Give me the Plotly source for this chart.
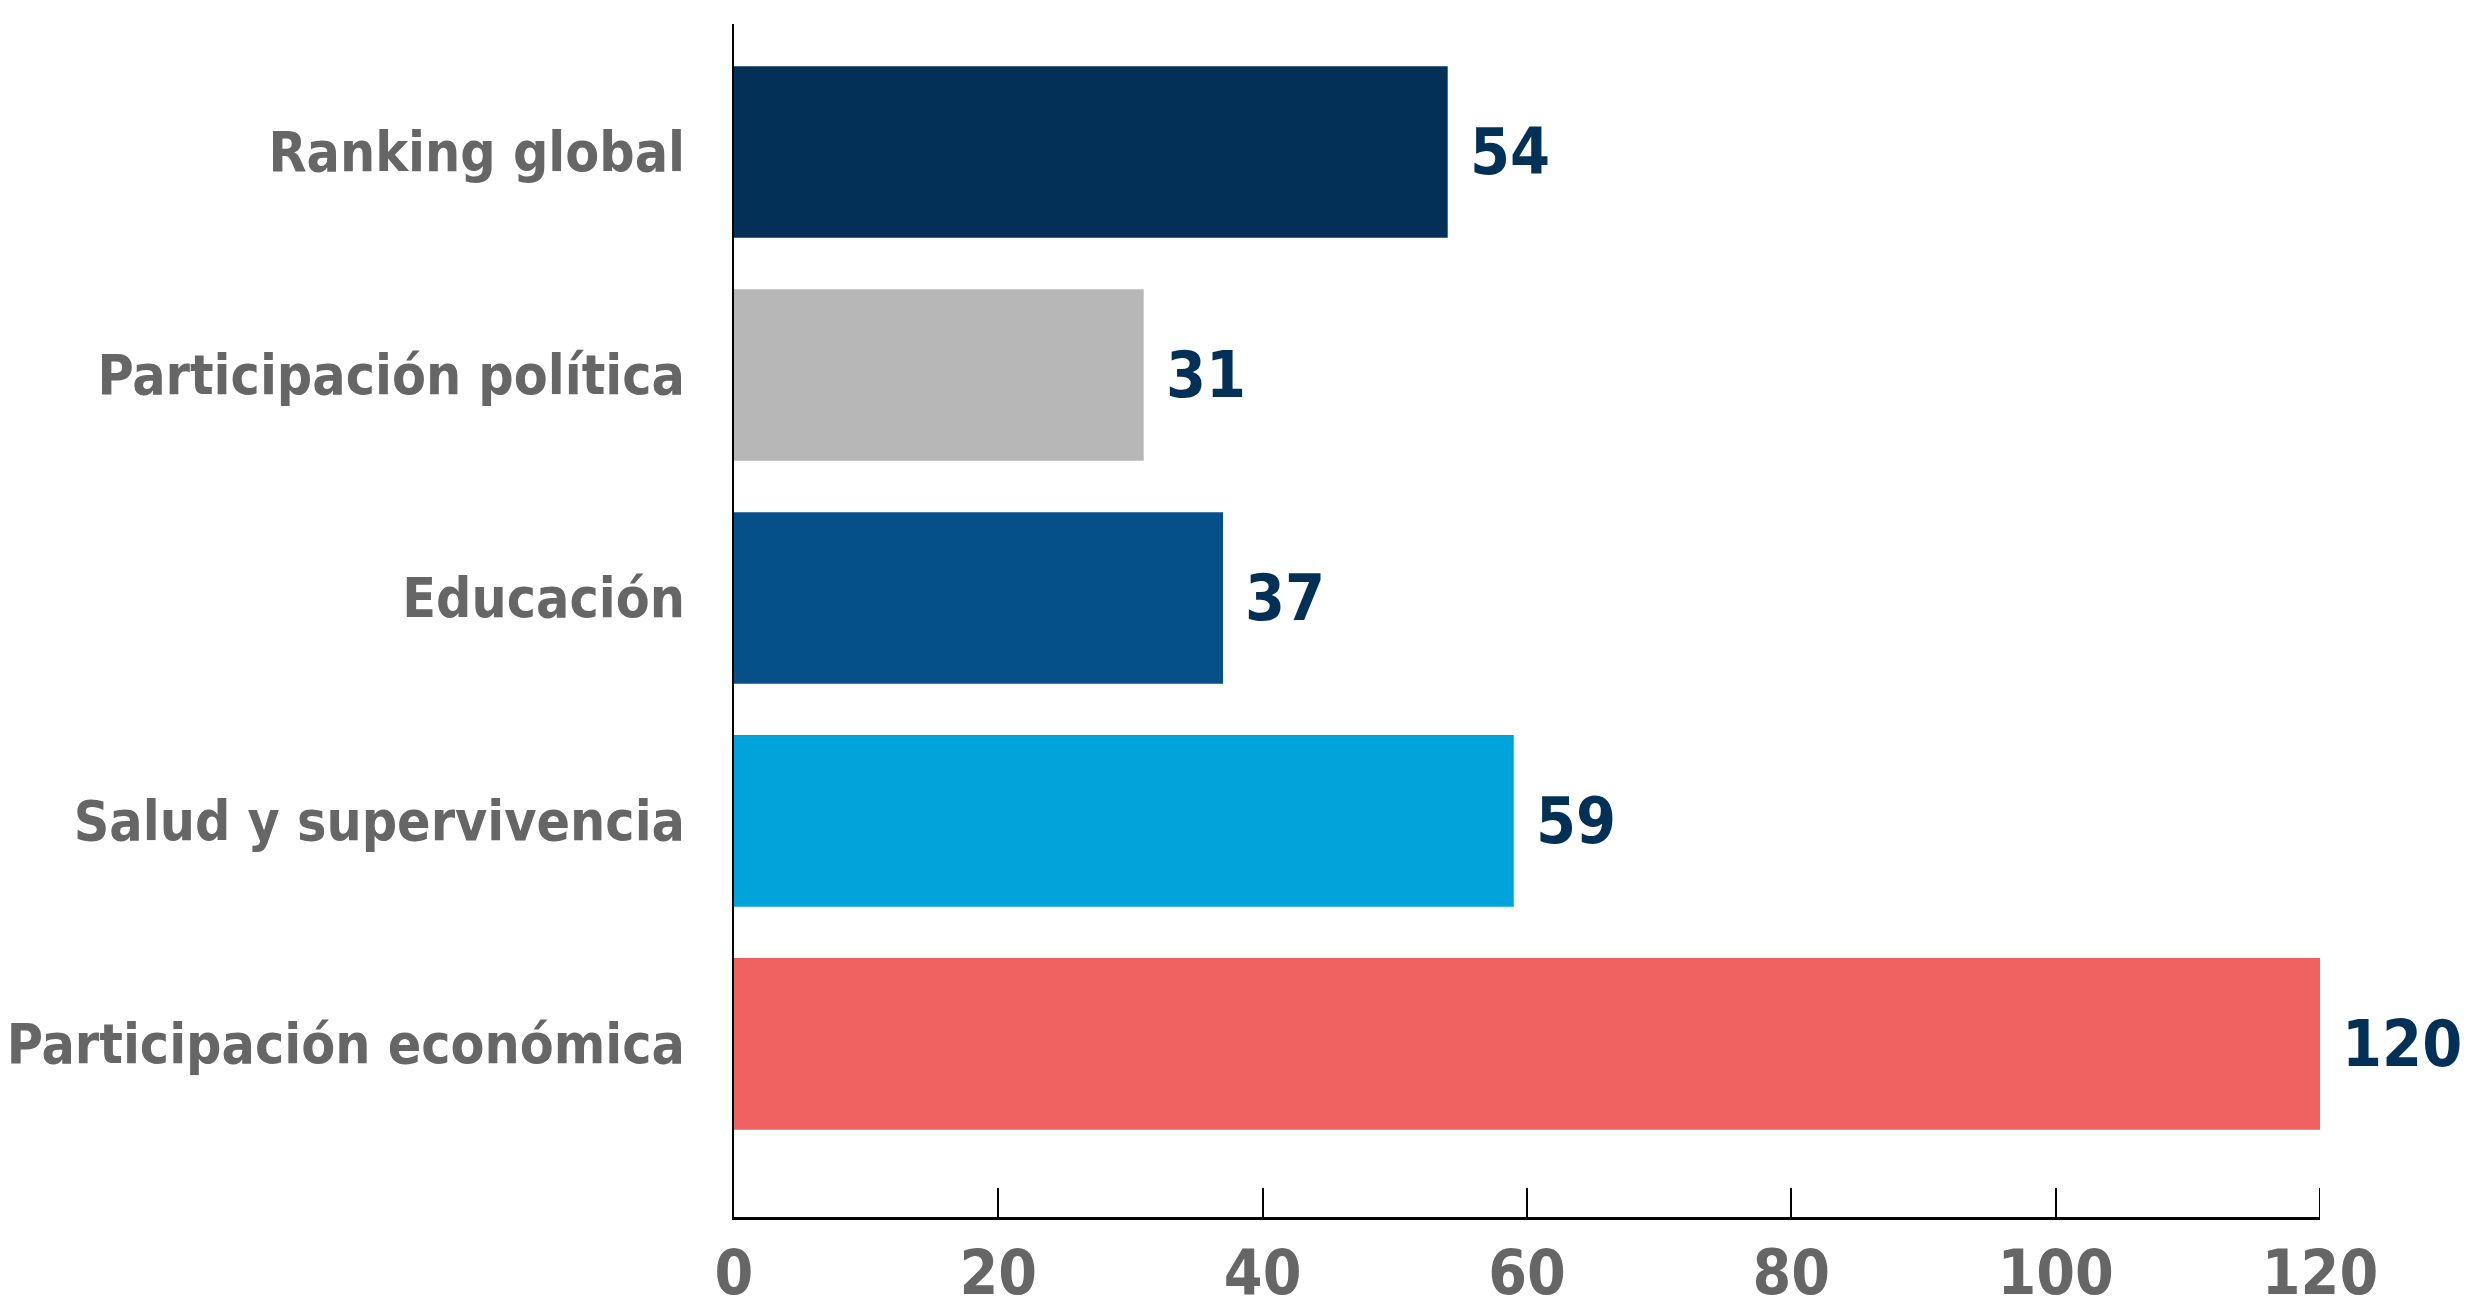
import plotly.graph_objects as go

# ── Data ─────────────────────────────────────────────────────────────────────
categories = [
    "Participación económica",
    "Salud y supervivencia",
    "Educación",
    "Participación política",
    "Ranking global",
]
ranks = [120, 59, 37, 31, 54]
bar_colors = ["#f06262", "#00a3da", "#06508a", "#b7b7b7", "#023056"]
x_ticks = [0, 20, 40, 60, 80, 100, 120]

FONT = "'Liberation Sans Narrow', 'DejaVu Sans Condensed', 'Arial Narrow', sans-serif"
GREY = "#666666"
NAVY = "#023056"
PLOT_H = 1312 - 16 - 103

fig = go.Figure(go.Bar(
    x=ranks,
    y=categories,
    orientation="h",
    width=0.77,
    marker=dict(color=bar_colors, line=dict(width=0)),
    cliponaxis=False,
    hoverinfo="x+y",
))

# value labels just right of each bar
for cat, val in zip(categories, ranks):
    fig.add_annotation(
        x=val, y=cat, text=str(val),
        xanchor="left", yanchor="middle", xshift=20,
        showarrow=False,
        font=dict(family=FONT, size=64, color=NAVY, weight="bold"),
    )

# plotly drops the inside tick at the range end, draw it by hand
fig.add_shape(
    type="line", xref="x", yref="paper",
    x0=x_ticks[-1], x1=x_ticks[-1], y0=0, y1=29 / PLOT_H,
    line=dict(color="black", width=2),
)

# page body adds an 8px offset, margins compensate for it
fig.update_layout(
    width=2475, height=1312,
    margin=dict(l=726, r=163, t=16, b=103),
    plot_bgcolor="white", paper_bgcolor="white",
    showlegend=False,
    xaxis=dict(
        range=[0, 120],
        tickvals=x_ticks,
        ticktext=[str(t) for t in x_ticks],
        showgrid=False, zeroline=False,
        showline=True, linecolor="black", linewidth=3,
        ticks="inside", ticklen=29, tickwidth=2, tickcolor="black",
        ticklabelstandoff=0,
        tickfont=dict(family=FONT, size=62, color=GREY, weight="bold"),
        automargin=False,
        fixedrange=True,
    ),
    yaxis=dict(
        categoryorder="array", categoryarray=categories,
        range=[-0.776, 4.574],
        showgrid=False, zeroline=False,
        showline=True, linecolor="black", linewidth=2,
        ticks="", ticklabelstandoff=36,
        tickfont=dict(family=FONT, size=55, color=GREY, weight="bold"),
        automargin=False,
        fixedrange=True,
    ),
)

fig.write_html("out.html")
